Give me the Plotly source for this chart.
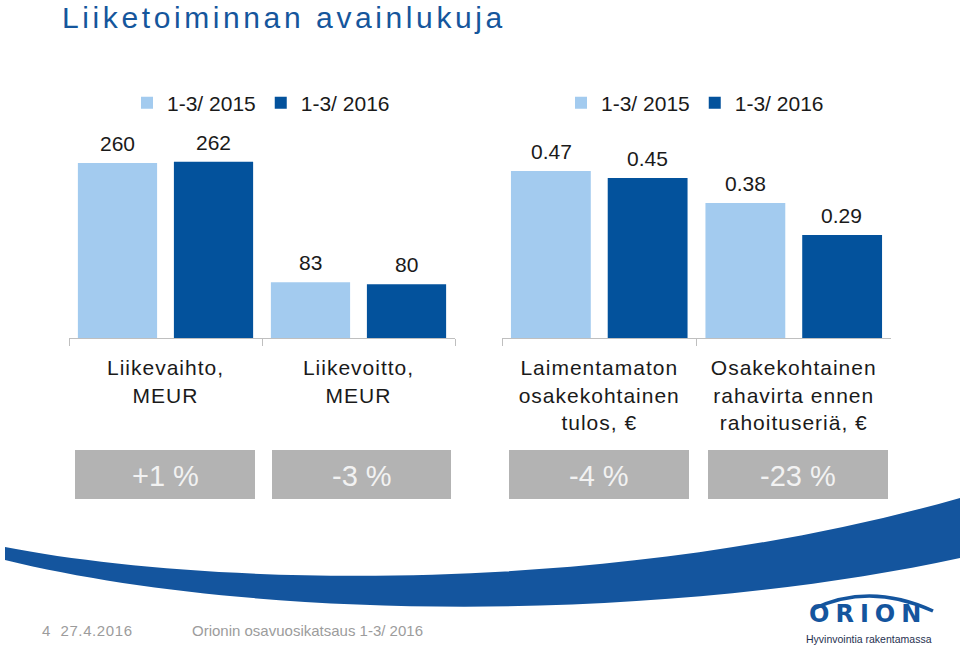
import plotly.graph_objects as go

# ---------------- data ----------------
series_names = ["1-3/ 2015", "1-3/ 2016"]
categories_left = ["Liikevaihto,<br>MEUR", "Liikevoitto,<br>MEUR"]
values_2015_left = [260, 83]
values_2016_left = [262, 80]
categories_right = ["Laimentamaton<br>osakekohtainen<br>tulos, €",
                    "Osakekohtainen<br>rahavirta ennen<br>rahoituseriä, €"]
values_2015_right = [0.47, 0.38]
values_2016_right = [0.45, 0.29]
changes = ["+1 %", "-3 %", "-4 %", "-23 %"]
title_text = "Liiketoiminnan avainlukuja"
footer_page = "4  27.4.2016"
footer_title = "Orionin osavuosikatsaus 1-3/ 2016"
logo_text = "ORION"
logo_tagline = "Hyvinvointia rakentamassa"

# ---------------- style ----------------
W, H = 960, 647
LIGHT = "#a3cbef"
DARK = "#03529c"
BLUE = "#14559e"
FONT = "Liberation Sans, Arial, sans-serif"
TXT = "#1a1a1a"


def px(x):
    return x / W


def py(y):
    return 1 - y / H


def spaced(t, s):
    return f'<span style="letter-spacing:{s}px">{t}</span>'


fig = go.Figure()

fig.add_trace(go.Bar(x=categories_left, y=values_2015_left, name=series_names[0],
                     marker=dict(color=LIGHT, line=dict(width=0)),
                     xaxis="x", yaxis="y", legend="legend"))
fig.add_trace(go.Bar(x=categories_left, y=values_2016_left, name=series_names[1],
                     marker=dict(color=DARK, line=dict(width=0)),
                     xaxis="x", yaxis="y", legend="legend"))
fig.add_trace(go.Bar(x=categories_right, y=values_2015_right, name=series_names[0],
                     marker=dict(color=LIGHT, line=dict(width=0)),
                     xaxis="x2", yaxis="y2", legend="legend2"))
fig.add_trace(go.Bar(x=categories_right, y=values_2016_right, name=series_names[1],
                     marker=dict(color=DARK, line=dict(width=0)),
                     xaxis="x2", yaxis="y2", legend="legend2"))

ydom = [py(338), py(128)]
xaxis_common = dict(type="category", range=[-0.5, 1.5], showline=True, linecolor="#bfbfbf",
                    linewidth=1, ticks="outside", tickson="boundaries", ticklen=7,
                    tickcolor="#bfbfbf", tickwidth=1, showgrid=False, zeroline=False,
                    tickfont=dict(size=21, color=TXT, family=FONT),
                    ticklabelstandoff=11, automargin=False, fixedrange=True)

fig.update_layout(
    width=W, height=H,
    margin=dict(l=0, r=0, t=0, b=0),
    paper_bgcolor="white", plot_bgcolor="white",
    barmode="group", bargap=0.005, bargroupgap=0.175,
    font=dict(family=FONT, color=TXT),
    xaxis=dict(domain=[px(69), px(455)], anchor="y",
               tickvals=categories_left,
               ticktext=[spaced(c, 1) for c in categories_left], **xaxis_common),
    yaxis=dict(domain=ydom, range=[0, 312], visible=False, fixedrange=True),
    xaxis2=dict(domain=[px(502), px(891)], anchor="y2",
                tickvals=categories_right,
                ticktext=[spaced(c, 1) for c in categories_right], **xaxis_common),
    yaxis2=dict(domain=ydom, range=[0, 0.591], visible=False, fixedrange=True),
    legend=dict(orientation="h", x=px(127), y=py(103), xanchor="left", yanchor="middle",
                font=dict(size=21, color=TXT, family=FONT), bgcolor="rgba(0,0,0,0)",
                itemwidth=30, traceorder="normal"),
    legend2=dict(orientation="h", x=px(561), y=py(103), xanchor="left", yanchor="middle",
                 font=dict(size=21, color=TXT, family=FONT), bgcolor="rgba(0,0,0,0)",
                 itemwidth=30, traceorder="normal"),
    showlegend=True,
)

shapes = []
annotations = []

# value labels above bars
def value_labels(xref, yref, cats, vals, fmt, xshift):
    for c, v in zip(cats, vals):
        annotations.append(dict(xref=xref, yref=yref, x=c, y=v, text=fmt.format(v),
                                showarrow=False, xanchor="center", yanchor="bottom",
                                xshift=xshift, yshift=6,
                                font=dict(size=21, color=TXT, family=FONT)))

value_labels("x", "y", categories_left, values_2015_left, "{:d}", -48)
value_labels("x", "y", categories_left, values_2016_left, "{:d}", 48)
value_labels("x2", "y2", categories_right, values_2015_right, "{:.2f}", -48)
value_labels("x2", "y2", categories_right, values_2016_right, "{:.2f}", 48)

# change boxes
box_x = [(75, 255), (272, 451), (509, 689), (708, 888)]
for (x0, x1), txt in zip(box_x, changes):
    shapes.append(dict(type="rect", xref="paper", yref="paper",
                       x0=px(x0), x1=px(x1), y0=py(499), y1=py(450),
                       fillcolor="#b3b3b3", line=dict(width=0), layer="below"))
    annotations.append(dict(xref="paper", yref="paper", x=px((x0 + x1) / 2), y=py(476),
                            text=txt, showarrow=False, xanchor="center", yanchor="middle",
                            font=dict(size=29, color="#f2f2f2", family=FONT)))

# swoosh
def P(x, y):
    return f"{px(x):.5f},{py(y):.5f}"

swoosh = (f"M {P(5,547)} C {P(200,585)} {P(600,600)} {P(960,498)} "
          f"L {P(960,558)} C {P(650,625)} {P(250,620)} {P(5,560)} Z")
shapes.append(dict(type="path", xref="paper", yref="paper", path=swoosh,
                   fillcolor=BLUE, line=dict(width=0), layer="below"))

# logo arc
arc = f"M {P(813,609)} Q {P(870,582)} {P(933,611)}"
shapes.append(dict(type="path", xref="paper", yref="paper", path=arc,
                   line=dict(color=BLUE, width=3.5)))

# title
annotations.append(dict(xref="paper", yref="paper", x=px(60), y=py(17),
                        text=spaced(title_text, 3.6),
                        showarrow=False, xanchor="left", yanchor="middle",
                        font=dict(size=30, color="#15569c", family=FONT)))
# footer
annotations.append(dict(xref="paper", yref="paper", x=px(40), y=py(630),
                        text=spaced(footer_page, 0.6),
                        showarrow=False, xanchor="left", yanchor="middle",
                        font=dict(size=15, color="#9c9c9c", family=FONT)))
annotations.append(dict(xref="paper", yref="paper", x=px(190), y=py(630),
                        text=footer_title,
                        showarrow=False, xanchor="left", yanchor="middle",
                        font=dict(size=15, color="#9c9c9c", family=FONT)))
# logo
annotations.append(dict(xref="paper", yref="paper", x=px(807), y=py(614),
                        text=f"<b>{spaced(logo_text, 6)}</b>",
                        showarrow=False, xanchor="left", yanchor="middle",
                        font=dict(size=24, color=BLUE, family="DejaVu Sans, sans-serif")))
annotations.append(dict(xref="paper", yref="paper", x=px(869), y=py(639), text=logo_tagline,
                        showarrow=False, xanchor="center", yanchor="middle",
                        font=dict(size=10.5, color="#1f3150", family=FONT)))

fig.update_layout(shapes=shapes, annotations=annotations)

fig.write_html("out.html")
